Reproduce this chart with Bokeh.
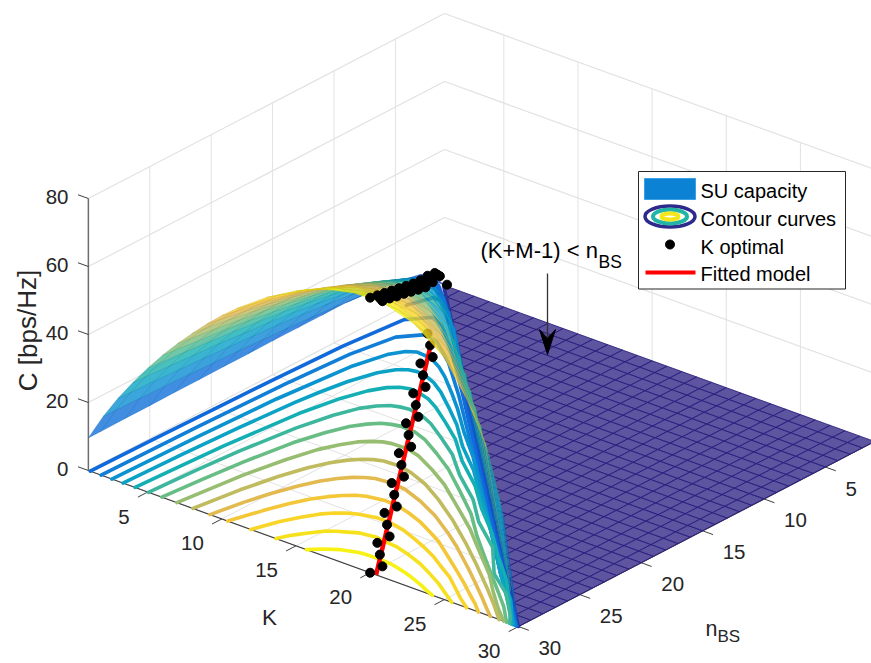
from bokeh.plotting import figure
from bokeh.models import Range1d
from bokeh.core.properties import value
from bokeh.embed import file_html
from bokeh.resources import INLINE

# ---------- data ----------
K_grid = [1, 2, 3, 4, 5, 6, 7, 8, 9, 10, 11, 13, 15, 17, 19, 21, 23, 25, 27, 28, 29, 30]
n_grid = [1, 3, 5, 7, 9, 11, 13, 15, 17, 19, 21, 23, 25, 27, 29, 30]
C_n1 = [0]
C_n3 = [7.0, 8.1]
C_n5 = [8.5, 11.1, 13.3, 12.5]
C_n7 = [9.5, 12.6, 16.2, 18.4, 18.7, 15.7]
C_n9 = [10.0, 13.5, 17.9, 21.2, 23.4, 24.2, 23.1, 18.3]
C_n11 = [10.0, 14.3, 19.2, 23.2, 26.3, 28.4, 29.6, 29.3, 26.8, 20.4]
C_n13 = [10.0, 14.8, 20.1, 24.6, 28.3, 31.3, 33.5, 34.8, 35.0, 33.6, 30.0]
C_n15 = [10.0, 15.3, 20.9, 25.7, 29.9, 33.4, 36.3, 38.5, 40.0, 40.4, 39.8, 32.9]
C_n17 = [9.9, 15.7, 21.6, 26.7, 31.2, 35.1, 38.5, 41.3, 43.5, 45.0, 45.8, 44.2, 35.4]
C_n19 = [9.9, 16.1, 22.1, 27.5, 32.3, 36.5, 40.3, 43.6, 46.3, 48.5, 50.1, 51.2, 48.2, 37.7]
C_n21 = [9.8, 16.4, 22.6, 28.2, 33.2, 37.7, 41.8, 45.4, 48.6, 51.3, 53.6, 56.3, 56.1, 51.9, 39.7]
C_n23 = [9.8, 16.7, 23.1, 28.9, 34.1, 38.8, 43.2, 47.1, 50.6, 53.7, 56.3, 60.2, 62.0, 60.7, 55.3, 41.6]
C_n25 = [9.7, 17.0, 23.5, 29.4, 34.8, 39.8, 44.3, 48.5, 52.3, 55.7, 58.7, 63.5, 66.6, 67.4, 65.2, 58.5, 43.4]
C_n27 = [9.7, 17.2, 23.9, 29.9, 35.5, 40.6, 45.4, 49.8, 53.8, 57.5, 60.8, 66.3, 70.3, 72.4, 72.4, 69.3, 61.6, 45.0]
C_n29 = [9.6, 17.4, 24.2, 30.4, 36.1, 41.4, 46.3, 50.9, 55.1, 59.0, 62.6, 68.7, 73.5, 76.8, 78.1, 77.2, 73.2, 64.4,
         46.5, 30.2]
C_n30 = [9.6, 17.5, 24.4, 30.6, 36.4, 41.8, 46.8, 51.4, 55.8, 59.8, 63.5, 69.9, 75.0, 78.7, 80.6, 80.6, 77.8, 71.2,
         58.1, 47.1, 30.4]
C_rows = [C_n1, C_n3, C_n5, C_n7, C_n9, C_n11, C_n13, C_n15, C_n17, C_n19, C_n21, C_n23, C_n25, C_n27, C_n29, C_n30]

opt_n = [30, 29, 28, 27, 26, 25, 24, 23, 22, 21, 20, 19, 18, 17, 16, 15, 14, 13, 12, 11, 10, 9, 8, 7, 6, 5, 4, 3, 2]
opt_K = [20, 20, 19, 18, 18, 17, 16, 16, 15, 14, 14, 13, 12, 12, 11, 10, 10, 9, 8, 8, 7, 6, 6, 5, 4, 4, 3, 2, 2]
opt_C = [80.9, 78, 75.4, 72.8, 70, 67.4, 64.7, 61.8, 59.3, 56.6, 53.8, 51.2, 48.5, 45.6, 43.1, 40.4, 37.4, 35,
         32.3, 29.3, 26.9, 24.5, 22.0, 19.5, 17, 15, 12, 9, 3.7]
floor_K = opt_K[:25]
floor_n = opt_n[:25]
fit_K = [20.4, 4.7]
fit_n = [30, 6.5]

levels = [1.6, 6.6, 11.6, 16.6, 21.6, 26.6, 31.6, 36.6, 41.6, 46.6, 51.6, 56.6, 61.6, 66.6, 71.6, 76.6]
k01 = [1, 5, 10, 20, 30]
n01 = [1.07, 5.04, 10.04, 20.04, 30]
k06 = [1, 1.5, 2, 3, 5, 10, 20, 29.9]
n06 = [4.1, 2.47, 2.57, 3.35, 5.24, 10.19, 20.17, 30]
k11 = [1.13, 1.2, 1.3, 1.42, 1.6, 2, 3, 4, 6, 10, 20, 29.85]
n11 = [30, 25, 20, 15, 10, 5.5, 4.3, 4.83, 6.55, 10.4, 20.32, 30]
k16 = [1.86, 2, 2.2, 2.5, 3, 4, 5, 7, 10, 15, 20, 25, 29.8]
n16 = [30, 22.2, 15.4, 10.5, 7.4, 6.17, 6.45, 7.94, 10.7, 15.56, 20.5, 25.47, 30]
k21 = [2.58, 2.75, 3, 3.5, 4, 4.5, 5, 6, 7, 8, 9.5, 11, 13, 15.2, 20.2, 25.2, 29.7]
n21 = [30, 23.2, 17.1, 11.5, 9.3, 8.4, 8.06, 8.15, 8.7, 9.42, 10.68, 12, 13.9, 15.83, 20.72, 25.66, 30]
k26 = [3.33, 3.5, 3.7, 4, 4.2, 4.5, 5, 5.5, 6, 6.5, 7, 8, 9, 10.5, 12.1, 14, 16.3, 18.5, 20.4, 23, 25.4, 27.7, 29.6]
n26 = [30, 25.3, 21, 16.8, 15, 13.1, 11.3, 10.4, 10, 9.86, 9.9, 10.33, 10.96, 12.12, 13.41, 15.23, 17.1, 19.23, 20.97,
       23.42, 25.88, 27.85, 30]
k31 = [4.15, 4.3, 4.5, 5, 5.5, 6, 6.5, 7, 7.5, 8, 9, 10, 11.5, 13.2, 15.1, 17.5, 19.5, 21.8, 23.8, 26, 27.8, 29.5]
n31 = [30, 26.8, 23.2, 17.7, 14.9, 13.3, 12.37, 11.9, 11.7, 11.7, 12, 12.56, 13.6, 14.84, 16.6, 18.44, 20.33, 22.25,
       24.18, 26.13, 28.09, 30]
k36 = [5.05, 5.25, 5.5, 6, 6.5, 7, 7.5, 8, 8.5, 9, 10, 11, 12.5, 14.2, 16.1, 18.5, 20.4, 22.9, 25, 27, 28.9, 29.4]
n36 = [30, 26.3, 23.2, 19.1, 16.7, 15.2, 14.4, 13.9, 13.7, 13.6, 13.75, 14.2, 15.16, 16.31, 18, 19.8, 21.65, 23.53,
       25.94, 27.38, 29.33, 30]
k41 = [5.95, 6.2, 6.5, 7, 7.5, 8, 8.5, 9, 9.5, 10, 11, 12, 13.5, 15.2, 17.3, 19.5, 21.4, 23.5, 25.7, 26.8, 27.9, 29.2]
n41 = [30, 27, 24, 20.6, 18.6, 17.2, 16.4, 15.85, 15.6, 15.45, 15.5, 15.88, 16.75, 17.83, 19.44, 21.18, 23, 24.85,
       26.75, 27.7, 28.66, 30]
k46 = [6.97, 7.5, 8, 8.5, 9, 9.5, 10, 10.5, 11, 12, 13, 14.5, 16.2, 18.3, 20.6, 22.7, 24.9, 26.3, 27.8, 29]
n46 = [30, 25.2, 22.4, 20.4, 19.2, 18.35, 17.84, 17.5, 17.35, 17.3, 17.6, 18.37, 19.37, 20.9, 22.6, 24.37, 26.2, 27.6,
       29, 30]
k51 = [8.05, 8.5, 9, 9.5, 10, 10.5, 11, 11.5, 12, 13, 14, 15.4, 17.1, 19.3, 21.5, 23.7, 25.9, 27.3, 28.7]
n51 = [30, 26.7, 24.2, 22.4, 21.2, 20.36, 19.8, 19.44, 19.24, 19.16, 19.4, 19.97, 20.95, 22.41, 24.04, 25.77, 27.57,
       28.76, 30]
k56 = [9.2, 9.6, 10, 10.5, 11, 11.5, 12, 12.5, 13, 14, 15, 16.5, 18.2, 20.16, 21.45, 23.6, 24.68, 26.29, 27.36, 28.1]
n56 = [30, 27.7, 26, 24.4, 23.2, 22.4, 21.8, 21.4, 21.14, 21, 21.13, 21.7, 22.55, 23.8, 24.7, 26.34, 27.2, 28.5, 29.4,
       30]
k61 = [10.4, 11, 11.5, 12, 12.5, 13, 13.5, 14, 15, 16, 17, 18.1, 19.2, 20.3, 21.8, 23.4, 24.5, 25.6, 26.5, 27.3]
n61 = [30, 27.85, 26.3, 25.2, 24.4, 23.8, 23.34, 23.08, 22.84, 22.9, 23.2, 23.63, 24.2, 24.8, 25.86, 27, 27.8, 28.65,
       29.32, 30]
k66 = [11.95, 12.5, 13, 13.5, 14, 14.5, 15, 16, 17, 18.1, 19.2, 20.2, 21.3, 22.4, 23.5, 24.5, 25.5, 26.5]
n66 = [30, 28.3, 27.2, 26.3, 25.7, 25.3, 25, 24.7, 24.7, 24.97, 25.4, 25.84, 26.4, 27.08, 27.75, 28.52, 29.3, 30]
k71 = [13.65, 14, 14.5, 15, 15.5, 16, 16.5, 17, 17.5, 18, 19, 20.2, 21.3, 22.4, 23.5, 24.5, 25.5]
n71 = [30, 29.2, 28.4, 27.7, 27.3, 27, 26.7, 26.6, 26.5, 26.6, 26.7, 27.07, 27.5, 28.07, 28.68, 29.34, 30]
k76 = [15.7, 16.3, 17, 17.5, 18, 18.5, 19, 19.6, 20.2, 20.8, 21.3, 21.9, 22.4, 23, 23.5, 24.2]
n76 = [30, 29.4, 28.9, 28.7, 28.5, 28.45, 28.44, 28.45, 28.5, 28.65, 28.8, 29, 29.2, 29.45, 29.7, 30]
contour_K = [k01, k06, k11, k16, k21, k26, k31, k36, k41, k46, k51, k56, k61, k66, k71, k76]
contour_n = [n01, n06, n11, n16, n21, n26, n31, n36, n41, n46, n51, n56, n61, n66, n71, n76]

K_ticks = [5, 10, 15, 20, 25, 30]
n_ticks = [5, 10, 15, 20, 25, 30]
C_ticks = [0, 20, 40, 60, 80]

# ---------- view: orthographic projection of the MATLAB 3-D axes ----------
O = (444.0, 285.0)
EK = (14.83, 5.38)
EN = (-12.28, 6.38)
EZ = 3.4


def px(K, n):
    return O[0] + (K - 1) * EK[0] + (n - 1) * EN[0]


def py(K, n, C=0.0):
    return O[1] + (K - 1) * EK[1] + (n - 1) * EN[1] - C * EZ


STOPS = [(0.0, 53, 42, 135), (0.1, 15, 92, 221), (0.2, 18, 125, 216), (0.3, 7, 156, 207), (0.4, 21, 177, 180),
         (0.5, 89, 189, 140), (0.6, 165, 190, 107), (0.7, 225, 185, 82), (0.8, 252, 206, 46), (0.9, 245, 228, 29),
         (1.0, 249, 251, 14)]


def parula(t, dark=1.0):
    t = min(max(t, 0.0), 1.0)
    for a, b in zip(STOPS[:-1], STOPS[1:]):
        if t <= b[0]:
            f = (t - a[0]) / (b[0] - a[0])
            r, g, bl = [(a[i] + f * (b[i] - a[i])) * dark for i in (1, 2, 3)]
            return "#%02x%02x%02x" % (int(r), int(g), int(bl))
    return "#f9fb0e"


FONT = value("Liberation Sans")
INK = "#262626"
GRID = "#e2e2e2"
ZMAX = 80

p = figure(width=871, height=663, x_range=Range1d(0, 871), y_range=Range1d(663, 0), toolbar_location=None,
           output_backend="svg", x_axis_location=None, y_axis_location=None, min_border=0,
           outline_line_color=None, background_fill_color="white", border_fill_color="white")
p.grid.visible = False

# walls and floor grid
for c in C_ticks:
    p.line([px(1, 30), px(1, 1), px(30, 1)], [py(1, 30, c), py(1, 1, c), py(30, 1, c)], line_color=GRID, line_width=1.2)
for n in n_ticks:
    p.line([px(1, n), px(1, n)], [py(1, n, 0), py(1, n, ZMAX)], line_color=GRID, line_width=1)
    p.line([px(1, n), px(30, n)], [py(1, n), py(30, n)], line_color=GRID, line_width=1)
for k in K_ticks:
    p.line([px(k, 1), px(k, 1)], [py(k, 1, 0), py(k, 1, ZMAX)], line_color=GRID, line_width=1)
    p.line([px(k, 1), px(k, 30)], [py(k, 1), py(k, 30)], line_color=GRID, line_width=1)

# box axes
axis_col = "#404040"
p.line([px(1, 30), px(1, 30)], [py(1, 30, 0), py(1, 30, ZMAX)], line_color="#6e6e6e", line_width=1.5)
p.line([px(1, 30), px(30, 30), px(30, 1)], [py(1, 30), py(30, 30), py(30, 1)], line_color=axis_col, line_width=1.2)
for c in C_ticks:
    p.line([px(1, 30), px(0.3, 30)], [py(1, 30, c), py(0.3, 30, c)], line_color=axis_col, line_width=1)
for k in K_ticks:
    p.line([px(k, 30), px(k, 30.8)], [py(k, 30), py(k, 30.8)], line_color=axis_col, line_width=1)
for n in n_ticks:
    p.line([px(30, n), px(30.7, n)], [py(30, n), py(30.7, n)], line_color=axis_col, line_width=1)

# flat part of the capacity surface, (K+M-1) < n_BS side
pxs, pys = [], []
for K in range(1, 30):
    for n in range(1, 30):
        if K > n:
            kk, nn = [K, K + 1, K + 1, K], [n, n, n + 1, n + 1]
        elif K == n:
            kk, nn = [K, K + 1, K + 1], [n, n, n + 1]
        else:
            continue
        pxs.append([px(a, b) for a, b in zip(kk, nn)])
        pys.append([py(a, b) for a, b in zip(kk, nn)])
p.patches(pxs, pys, fill_color="#352a87", fill_alpha=0.8, line_color="#2a2080", line_alpha=0.85, line_width=1)

# contour curves on the floor
for L, ck, cn in zip(levels, contour_K, contour_n):
    p.line([px(a, b) for a, b in zip(ck, cn)], [py(a, b) for a, b in zip(ck, cn)], line_color=parula(L / ZMAX),
           line_width=3.6, line_join="round", line_cap="round")

# fitted model and optimal K on the floor
p.line([px(a, b) for a, b in zip(fit_K, fit_n)], [py(a, b) for a, b in zip(fit_K, fit_n)], line_color="#ff0000",
       line_width=4.5)
p.scatter([px(a, b) for a, b in zip(floor_K, floor_n)], [py(a, b) for a, b in zip(floor_K, floor_n)], size=9,
          color="black")


# capacity surface, far facets first
def val(i, j):
    r = C_rows[j]
    return r[i] if i < len(r) else 0.0


cells = []
for j in range(len(n_grid) - 1):
    for i in range(len(K_grid) - 1):
        corners = [(i, j), (i + 1, j), (i + 1, j + 1), (i, j + 1)]
        corners = [(a, b) for a, b in corners if K_grid[a] <= n_grid[b]]
        if len(corners) < 3:
            continue
        if max(val(a, b) for a, b in corners) <= 0:
            continue
        cells.append((K_grid[i] + K_grid[i + 1] + n_grid[j] + n_grid[j + 1], corners))
cells.sort(key=lambda c: c[0])
sx, sy, sc, se = [], [], [], []
for _, corners in cells:
    zs = [val(a, b) for a, b in corners]
    sx.append([px(K_grid[a], n_grid[b]) for a, b in corners])
    sy.append([py(K_grid[a], n_grid[b], val(a, b)) for a, b in corners])
    t = sum(zs) / len(zs) / ZMAX
    sc.append(parula(t))
    se.append(parula(t, 0.85))
p.patches(sx, sy, fill_color=sc, fill_alpha=0.8, line_color=se, line_alpha=0.45, line_width=0.7)

# optimal K on the surface
p.scatter([px(a, b) for a, b in zip(opt_K, opt_n)], [py(a, b, c) for a, b, c in zip(opt_K, opt_n, opt_C)], size=9,
          color="black")

# tick labels
for c in C_ticks:
    p.text([68], [py(1, 30, c) - 2], text=[str(c)], text_font=FONT, text_font_size="20.5px", text_color=INK,
           text_align="right", text_baseline="middle")
for k in K_ticks:
    p.text([px(k, 30) - 18], [py(k, 30) + 24.5], text=[str(k)], text_font=FONT, text_font_size="20.5px",
           text_color=INK, text_align="right", text_baseline="middle")
for n in n_ticks:
    p.text([px(30, n) + 20], [py(30, n) + 21.5], text=[str(n)], text_font=FONT, text_font_size="20.5px",
           text_color=INK, text_align="left", text_baseline="middle")

p.text([27], [330], text=["C [bps/Hz]"], angle=1.5708, text_font=FONT, text_font_size="26px", text_color=INK,
       text_align="center", text_baseline="middle")
p.text([269], [617], text=["K"], text_font=FONT, text_font_size="22.5px", text_color=INK, text_align="center",
       text_baseline="middle")
p.text([705], [628], text=["n"], text_font=FONT, text_font_size="21.5px", text_color=INK, text_align="left",
       text_baseline="middle")
p.text([717], [636], text=["BS"], text_font=FONT, text_font_size="17px", text_color=INK, text_align="left",
       text_baseline="middle")

# annotation
p.text([480], [250], text=["(K+M-1) < n"], text_font=FONT, text_font_size="22px", text_color="black",
       text_align="left", text_baseline="middle")
p.text([598], [261], text=["BS"], text_font=FONT, text_font_size="17.5px", text_color="black", text_align="left",
       text_baseline="middle")
p.line([547, 547], [273, 340], line_color="#333333", line_width=1.3)
p.patch([539, 547, 555, 547], [329, 354, 329, 338], fill_color="black", line_color="black")

# legend
p.quad(left=[638], right=[845], top=[171], bottom=[288.5], fill_color="white", line_color="#262626", line_width=1)
p.quad(left=[644], right=[695], top=[178], bottom=[199], fill_color="#0b82d4", line_color="#3b9fe6", line_width=1)
p.ellipse([669.5], [216], width=[50], height=[21], fill_color="white", line_color="#2e2a8c", line_width=3.5)
p.ellipse([669.5], [216], width=[34], height=[14], fill_color="white", line_color="#22b5a5", line_width=4)
p.ellipse([669.5], [216], width=[17], height=[6], fill_color="white", line_color="#f5e51b", line_width=4)
p.scatter([669.5], [244], size=9, color="black")
p.line([645, 695], [272, 272], line_color="#ff0000", line_width=4)
for label, y in zip(["SU capacity", "Contour curves", "K optimal", "Fitted model"], [190, 218, 246, 273]):
    p.text([700], [y], text=[label], text_font=FONT, text_font_size="20px", text_color="black", text_align="left",
           text_baseline="middle")

open("out.html", "w").write(file_html(p, INLINE))
